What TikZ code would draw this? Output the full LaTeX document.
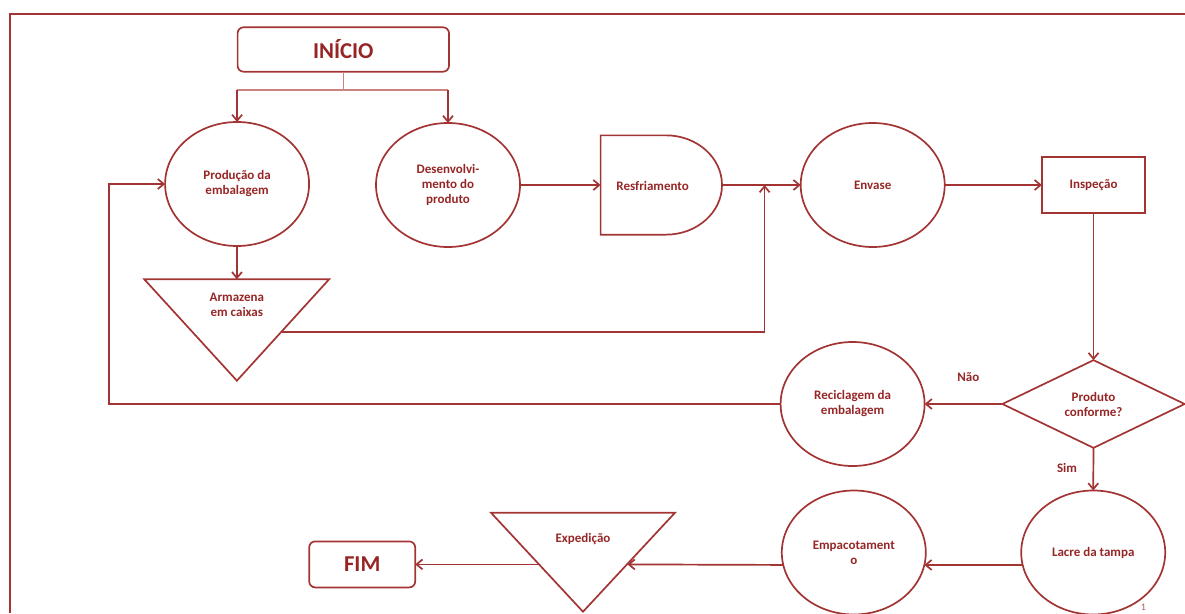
\documentclass[tikz,border=0pt]{standalone}
\usepackage{fontspec}
\setmainfont{Carlito}
\usetikzlibrary{shapes.geometric,arrows.meta}
\definecolor{ln}{RGB}{163,52,52}
\definecolor{tx}{RGB}{150,38,38}
\definecolor{lt}{RGB}{205,130,130}
\begin{document}
\begin{tikzpicture}[x=1pt,y=-1pt,
  every node/.style={text=tx, font=\bfseries\fontsize{13}{15}\selectfont, align=center, inner sep=0pt, outer sep=0pt},
  conn/.style={draw=ln, line width=1.7pt},
  lightconn/.style={draw=lt, line width=1.4pt},
  arr/.style={conn, -{Straight Barb[length=6pt,width=10pt]}},
  proc/.style={ellipse, draw=ln, line width=1.7pt, minimum width=144pt, minimum height=124pt},
  term/.style={rectangle, rounded corners=6pt, draw=ln, line width=1.7pt, font=\bfseries\fontsize{22.7}{26}\selectfont},
  shp/.style={draw=ln, line width=1.7pt, line join=miter},
  boxx/.style={rectangle, draw=ln, line width=1.7pt}
]
\useasboundingbox (0,0) rectangle (1185,613);
% frame
\draw[draw=ln, line width=1.8pt] (9.6,613) -- (9.6,14) -- (1185,14);

% terminals
\node[term, minimum width=211.4pt, minimum height=44.4pt] (inicio) at (343.3,49.5) {INÍCIO};
\node[term, minimum width=106pt, minimum height=46pt] (fim) at (362.2,564.4) {FIM};

% processes
\node[proc] (prod) at (237.1,184) {Produção da\\embalagem};
\node[proc] (desen) at (448,185) {Desenvolvi-\\mento do\\produto};
\node[proc] (env) at (872.7,185) {Envase};
\node[proc] (recic) at (852.6,404) {Reciclagem da\\embalagem};
\node[proc] (lacre) at (1093.2,552.5) {Lacre da tampa};
\node[proc] (empac) at (853.8,552.5) {Empacotament\\o};
\node[boxx, minimum width=103.2pt, minimum height=56pt] (insp) at (1093.5,185) {Inspeção};
\node[diamond, draw=ln, line width=1.7pt, minimum width=182.2pt, minimum height=87.7pt, aspect=2] (dia) at (1093.5,404) {Produto\\conforme?};

% delay shape (Resfriamento)
\node[minimum width=121.4pt, minimum height=99.3pt] (resf) at (661.3,185) {};
\coordinate (rtop) at (666,135.35);
\coordinate (rbot) at (666,234.65);
\draw[shp] (rtop) -- (resf.north west) -- (resf.south west) -- (rbot)
  .. controls ++(30.9,0) and ++(0,27.4) .. (resf.east)
  .. controls ++(0,-27.4) and ++(30.9,0) .. (rtop) -- cycle;
\node (resftxt) at (652.6,185.7) {Resfriamento};

% storage triangles
\draw[shp] (144.3,279.3) -- (329.1,279.3) -- (236.9,380.7) -- cycle;
\coordinate (armT) at (236.9,279.3);
\node (arm) at (236.9,305.2) {Armazena\\em caixas};
\draw[shp] (491,512.7) -- (675,512.7) -- (583,611.7) -- cycle;
\node (exp) at (583,539) {Expedição};

% coordinates
\coordinate (split) at (343.3,90);
\coordinate (sL) at (prod.north |- split);
\coordinate (sR) at (desen.north |- split);
\coordinate (merge) at (764.6,185);
\coordinate (armR) at (282,331.7);
\coordinate (fb) at (109,404);
\coordinate (expR) at (627.5,564.4);
\coordinate (expL) at (538.5,564.4);

% connectors
\draw[lightconn] (inicio.south) -- (split);
\draw[lightconn] (sL) -- (sR);
\draw[arr] (sL) -- (prod.north);
\draw[arr] (sR) -- (desen.north);
\draw[arr] (prod.south) -- (armT);
\draw[arr] (desen.east) -- (resf.west);
\draw[arr] (resf.east) -- (env.west);
\draw[arr] (armR) -| (merge);
\draw[arr] (env.east) -- (insp.west);
\draw[arr] (insp.south) -- (dia.north);
\draw[arr] (dia.west) -- (recic.east);
\draw[arr] (recic.west) -- (fb) |- (prod.west);
\draw[arr] (dia.south) -- (lacre.north);
\draw[arr] (lacre.190) -- (empac.-10);
\draw[arr] (empac.190) -- (expR);
\draw[arr] (expL) -- (fim.east);

% labels
\node (nao) at (968.4,377.3) {Não};
\node (sim) at (1067,468.3) {Sim};
\node[font=\fontsize{10}{12}\selectfont, text=tx!75] (pg) at (1143.3,607) {1};
\end{tikzpicture}
\end{document}
